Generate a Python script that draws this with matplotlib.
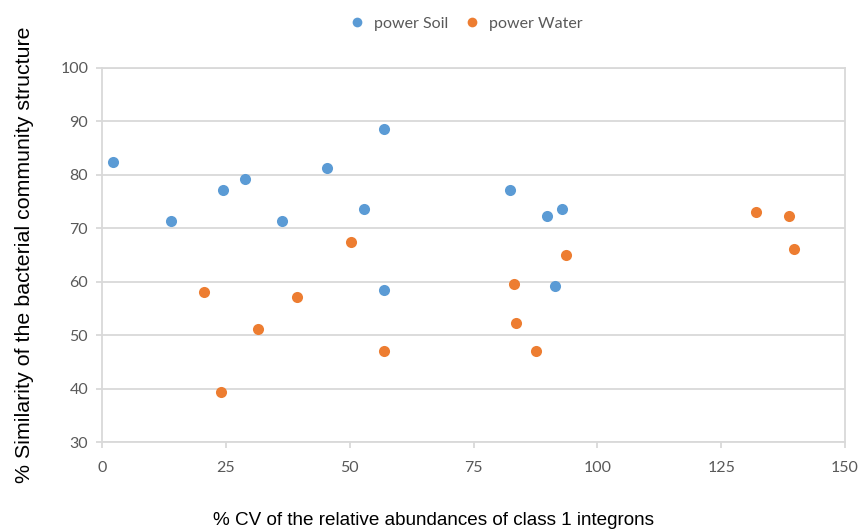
import matplotlib
matplotlib.use("Agg")
import matplotlib.pyplot as plt
from matplotlib.lines import Line2D

# % CV of class 1 integron abundances vs. % similarity of community structure
soil_cv = [2.1, 14.0, 24.5, 28.9, 36.3, 45.5, 56.9, 52.9, 82.3, 89.8, 92.8, 91.5, 56.9]
soil_sim = [82.4, 71.4, 77.1, 79.2, 71.4, 81.2, 88.5, 73.5, 77.1, 72.3, 73.5, 59.2, 58.5]

water_cv = [20.5, 24.0, 31.5, 39.4, 50.3, 93.6, 83.1, 83.6, 87.6, 56.9, 132.0, 138.6, 139.8]
water_sim = [58.0, 39.3, 51.1, 57.2, 67.4, 64.9, 59.6, 52.3, 47.1, 47.1, 73.0, 72.2, 66.1]

x_ticks = [0, 25, 50, 75, 100, 125, 150]
y_ticks = [30, 40, 50, 60, 70, 80, 90, 100]

SOIL = "#5B9BD5"
WATER = "#ED7D31"
GRID = "#D9D9D9"
TICKTXT = "#595959"

W, H = 862, 531
fig = plt.figure(figsize=(W / 100, H / 100), dpi=100)
ax = fig.add_axes([102.1 / W, 1 - 442 / H, (845 - 102.1) / W, (442 - 67.7) / H])

ax.scatter(soil_cv, soil_sim, s=64, color=SOIL, linewidths=0, zorder=3)
ax.scatter(water_cv, water_sim, s=64, color=WATER, linewidths=0, zorder=3)

ax.set_xlim(0, 150)
ax.set_ylim(30, 100)
ax.set_xticks(x_ticks)
ax.set_yticks(y_ticks)

narrow = ["Lato", "DejaVu Sans"]
ax.set_xticklabels([str(v) for v in x_ticks], family=narrow, fontsize=11.5, color=TICKTXT)
ax.set_yticklabels([str(v) for v in y_ticks], family=narrow, fontsize=11.5, color=TICKTXT)

ax.yaxis.grid(True, color=GRID, linewidth=1.3, zorder=0)
ax.set_axisbelow(True)
for side in ["left", "right", "top", "bottom"]:
    ax.spines[side].set_color(GRID)
    ax.spines[side].set_linewidth(1.3)
ax.tick_params(axis="both", length=4, width=1.3, color=GRID)
ax.tick_params(axis="x", pad=10)
ax.tick_params(axis="y", pad=6)

ax.set_xlabel("% CV of the relative abundances of class 1 integrons",
              family="Liberation Sans", fontsize=13.6, color="black")
ax.xaxis.set_label_coords(0.4455, -0.186)
ax.set_ylabel("% Similarity of the bacterial community structure",
              family="Liberation Sans", fontsize=15.4, color="black", labelpad=19)

handles = [
    Line2D([], [], marker="o", linestyle="none", markersize=7, color=SOIL, markeredgewidth=0),
    Line2D([], [], marker="o", linestyle="none", markersize=7, color=WATER, markeredgewidth=0),
]
fig.legend(handles, ["power Soil", "power Water"], loc="center", bbox_to_anchor=(0.5354, 1 - 24 / H),
           ncol=2, frameon=False, handletextpad=0.05, columnspacing=0.5,
           prop={"family": narrow, "size": 11.5}, labelcolor=TICKTXT)

fig.savefig("out.png", dpi=100)
